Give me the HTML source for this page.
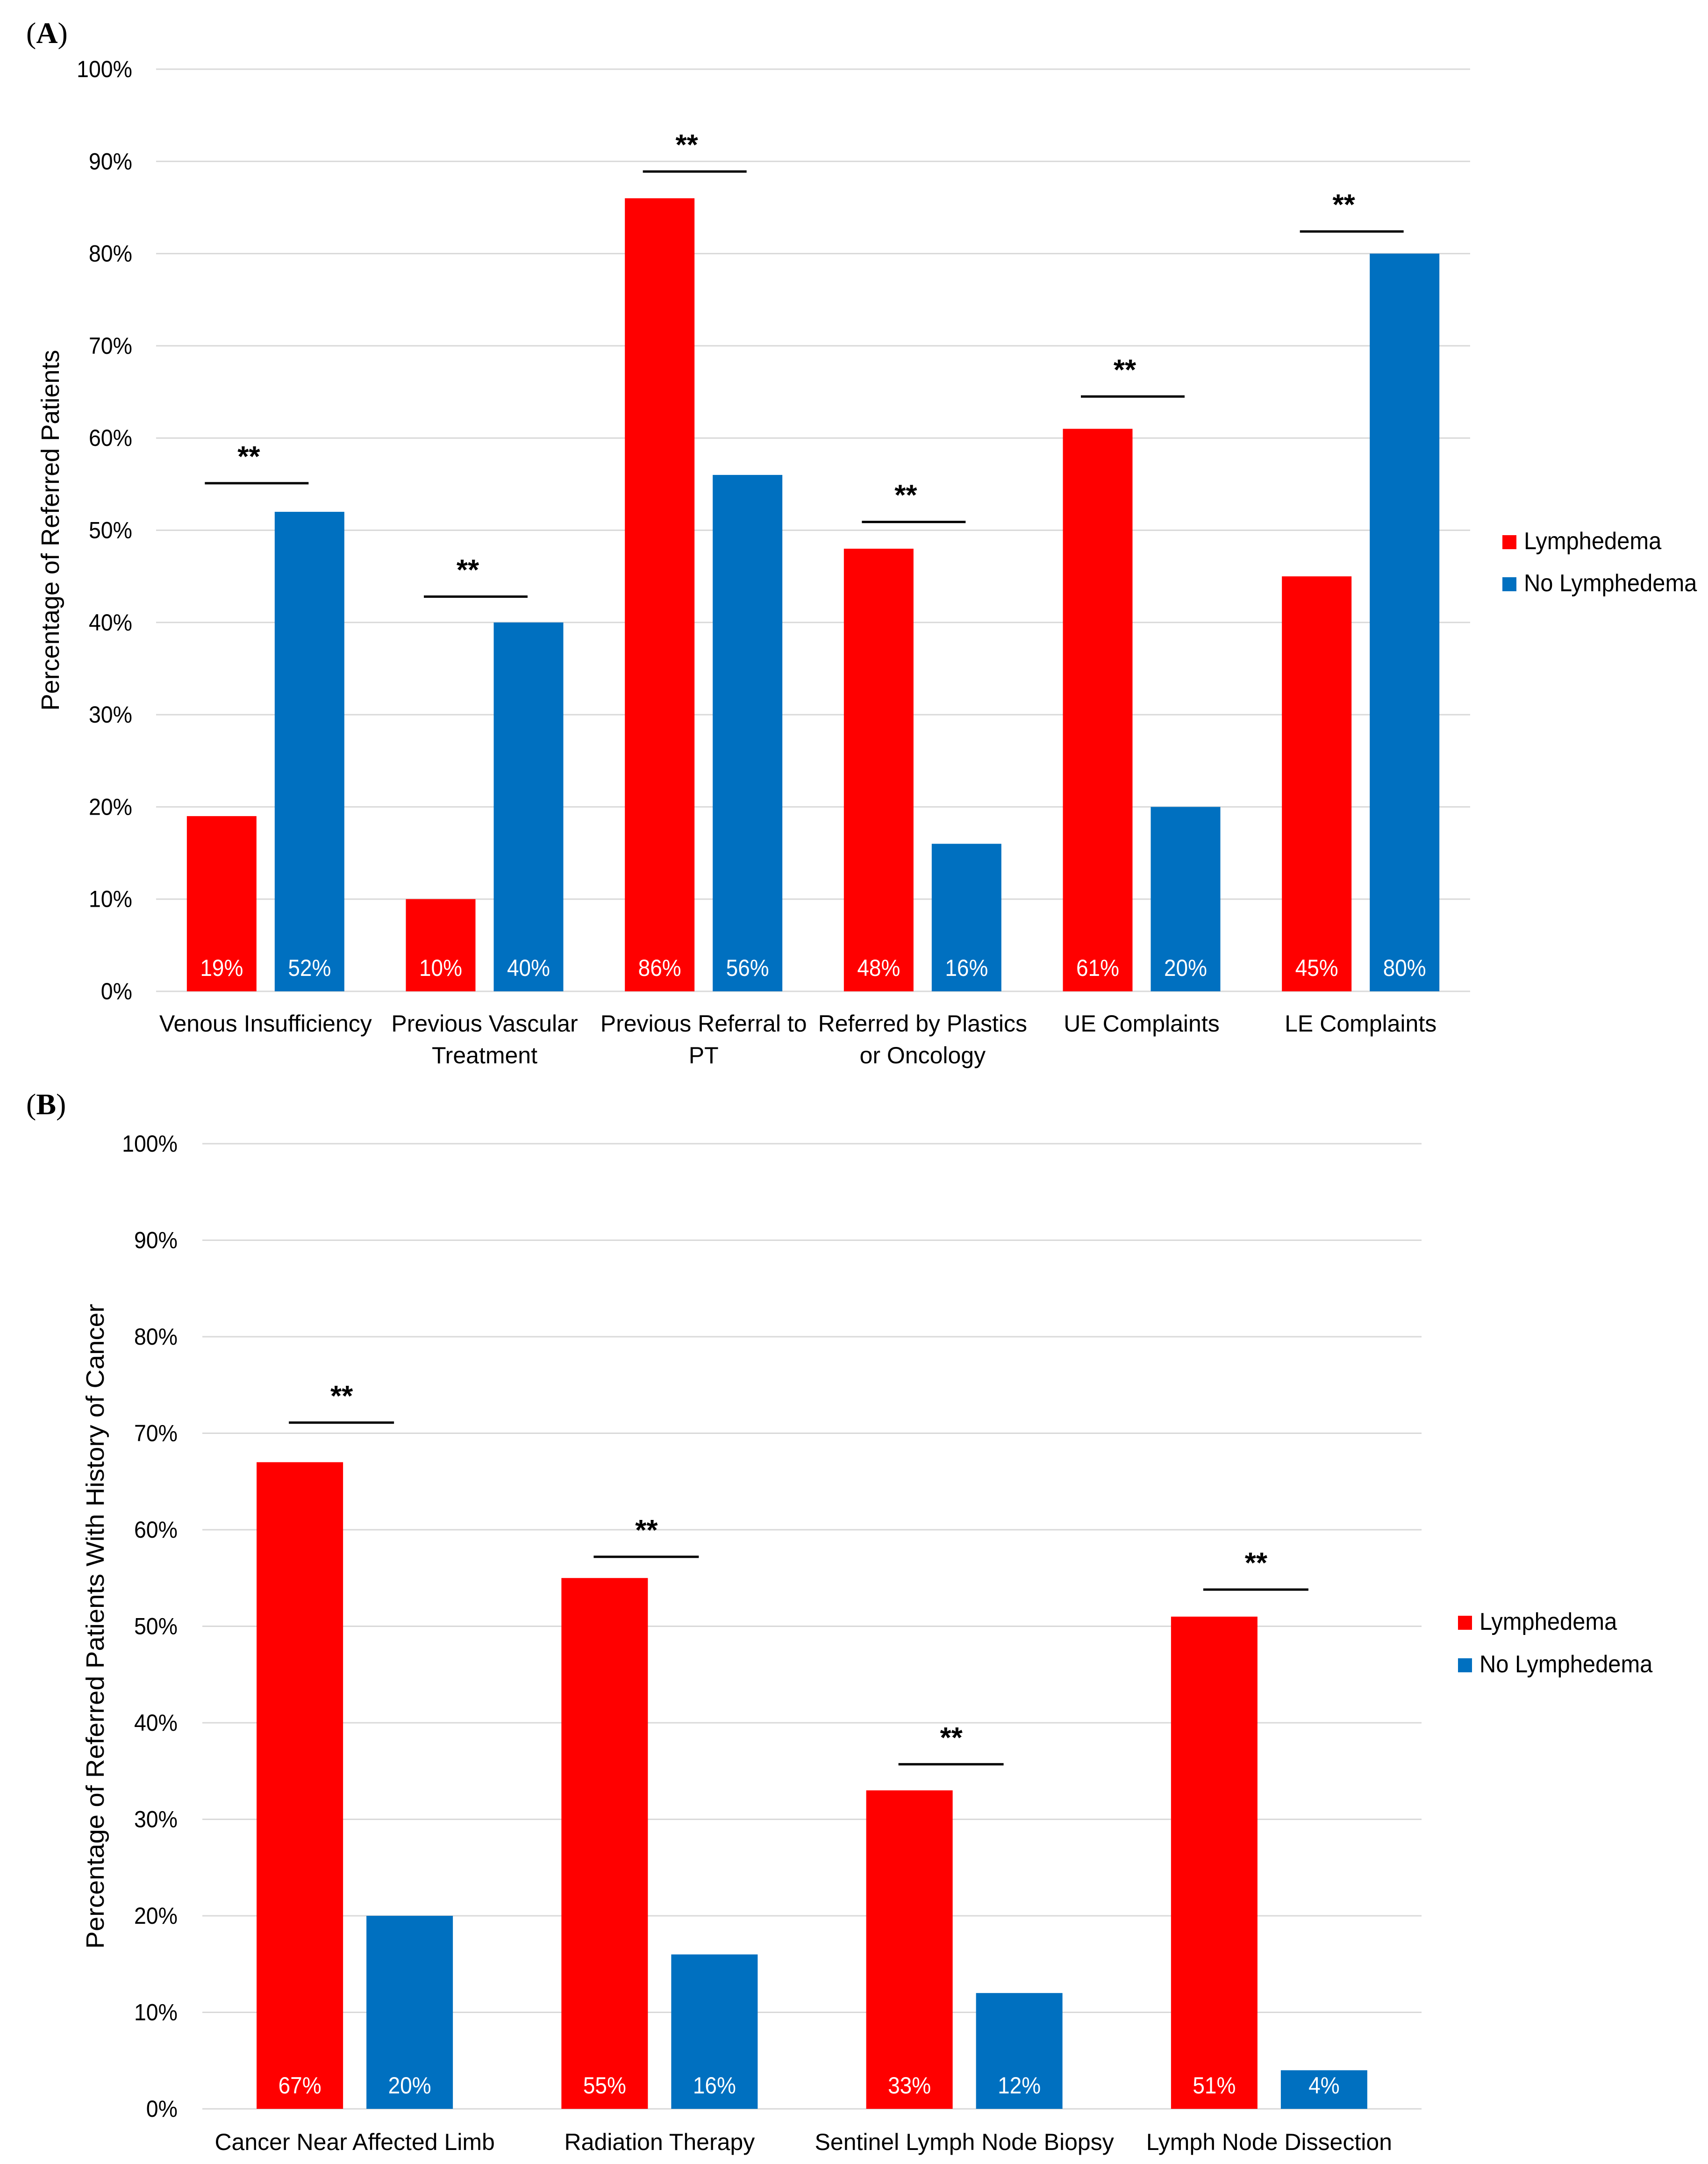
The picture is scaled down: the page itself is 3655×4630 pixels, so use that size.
<!DOCTYPE html>
<html><head><meta charset="utf-8"><style>
html,body{margin:0;padding:0;background:#fff;}
svg{display:block;font-family:"Liberation Sans",Arial,sans-serif;}
</style></head><body>
<svg id="fig" width="3655" height="4630" viewBox="0 0 3655 4630" xmlns="http://www.w3.org/2000/svg">
<text x="56" y="92" font-family="Liberation Serif, serif" font-size="64">(<tspan font-weight="bold">A</tspan>)</text>
<text x="56" y="2384" font-family="Liberation Serif, serif" font-size="64">(<tspan font-weight="bold">B</tspan>)</text>
<g id="chartA"></g>
<g id="chartB"></g>
</svg>
<script>
// Panel A data
const catsA = [["Venous Insufficiency"],["Previous Vascular","Treatment"],["Previous Referral to","PT"],["Referred by Plastics","or Oncology"],["UE Complaints"],["LE Complaints"]];
const lymphA = [19,10,86,48,61,45];
const noLymphA = [52,40,56,16,20,80];
const sigA = [55.1,42.8,88.9,50.9,64.5,82.4];
// Panel B data
const catsB = [["Cancer Near Affected Limb"],["Radiation Therapy"],["Sentinel Lymph Node Biopsy"],["Lymph Node Dissection"]];
const lymphB = [67,55,33,51];
const noLymphB = [20,16,12,4];
const sigB = [71.1,57.2,35.7,53.8];
const ticks = [0,10,20,30,40,50,60,70,80,90,100];
const seriesNames = ["Lymphedema","No Lymphedema"];

const NS="http://www.w3.org/2000/svg";
const RED="#FF0000", BLUE="#0070C0";
function mk(tag,attrs,parent){const e=document.createElementNS(NS,tag);for(const k in attrs)e.setAttribute(k,attrs[k]);parent.appendChild(e);return e;}
function txt(parent,x,y,s,size,anchor,fill,sx,weight){
  const g=mk('g',{transform:`translate(${x},${y}) scale(${sx},1)`},parent);
  const t=mk('text',{x:0,y:0,'font-size':size,'text-anchor':anchor,fill:fill},g);
  if(weight)t.setAttribute('font-weight',weight);
  t.textContent=s;return t;
}

function drawChart(root,cfg){
  const {cats,red,blue,sig,x0,x1,y0,y100,barW,gap,tickX,ylab,ylabX,ylabLen,legX,legY,starOff,lineL,lineR,catBase}=cfg;
  const yScale=v=>y0-(v/100)*(y0-y100);
  const band=(x1-x0)/cats.length;
  const xc=i=>x0+band*(i+0.5);
  ticks.forEach(t=>{
    const l=mk('line',{x1:x0,x2:x1,y1:yScale(t),y2:yScale(t),stroke:'#D9D9D9','stroke-width':3},root);
    
    
    const tl=txt(root,tickX,yScale(t)+17,t+'%',50,'end','#000',0.93);
    
    
  });
  const yt=mk('text',{transform:`translate(${ylabX},${(y0+y100)/2}) rotate(-90)`,'text-anchor':'middle','font-size':54,textLength:ylabLen,lengthAdjust:'spacingAndGlyphs',fill:'#000'},root);
  yt.textContent=ylab;
  
  
  cats.forEach((c,i)=>{
    const c0=xc(i);
    const rx=c0-gap/2-barW, bx=c0+gap/2;
    const r=mk('rect',{x:rx,y:yScale(red[i]),width:barW,height:y0-yScale(red[i]),fill:RED},root);
    
    
    const b=mk('rect',{x:bx,y:yScale(blue[i]),width:barW,height:y0-yScale(blue[i]),fill:BLUE},root);
    
    
    const vr=txt(root,rx+barW/2,y0-33,red[i]+'%',50,'middle','#fff',0.92);
    
    
    const vb=txt(root,bx+barW/2,y0-33,blue[i]+'%',50,'middle','#fff',0.92);
    
    
    c.forEach((line,j)=>{
      const cl=txt(root,c0,catBase+j*68,line,50,'middle','#000',1.0);
      
      
    });
    const sy=yScale(sig[i]);
    const sl=mk('line',{x1:c0+lineL,x2:c0+lineR,y1:sy,y2:sy,stroke:'#000','stroke-width':5},root);
    
    
    const st=txt(root,c0+starOff,sy-36,'**',62,'middle','#000',1,'bold');
    
    
  });
  [RED,BLUE].forEach((col,k)=>{
    const sq=mk('rect',{x:legX,y:legY[k]-30,width:30,height:30,fill:col},root);
    
    
    const lt=txt(root,legX+46,legY[k],seriesNames[k],52,'start','#000',0.94);
    
    
  });
}

drawChart(document.getElementById('chartA'),{cats:catsA,red:lymphA,blue:noLymphA,sig:sigA,
  x0:334,x1:3146,y0:2121,y100:148,barW:149,gap:39,tickX:283,
  ylab:"Percentage of Referred Patients",ylabX:126,ylabLen:772,
  legX:3215,legY:[1175,1265],starOff:-36,lineL:-130,lineR:92,catBase:2207});
drawChart(document.getElementById('chartB'),{cats:catsB,red:lymphB,blue:noLymphB,sig:sigB,
  x0:433,x1:3042,y0:4512,y100:2447,barW:185,gap:50,tickX:380,
  ylab:"Percentage of Referred Patients With History of Cancer",ylabX:222,ylabLen:1380,
  legX:3120,legY:[3487,3578],starOff:-28,lineL:-141,lineR:84,catBase:4600});
</script>
</body></html>
